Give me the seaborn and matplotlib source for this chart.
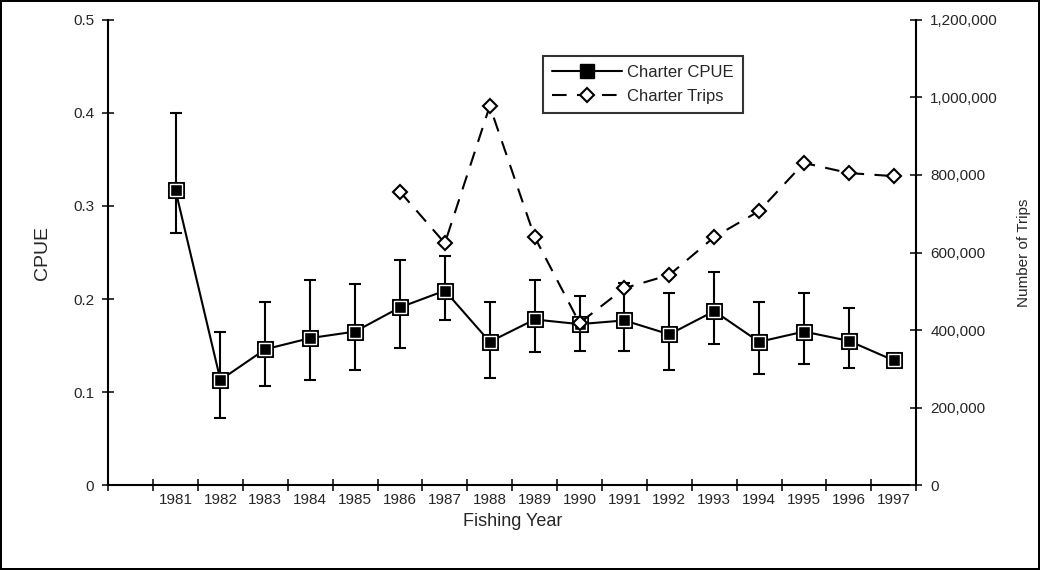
import numpy as np
import pandas as pd
import seaborn as sns
import matplotlib.pyplot as plt
from matplotlib.lines import Line2D
from matplotlib.ticker import FuncFormatter, MultipleLocator

years = list(range(1981, 1998))
cpue = [0.317, 0.113, 0.146, 0.158, 0.165, 0.191, 0.209, 0.154, 0.178,
        0.173, 0.177, 0.162, 0.187, 0.154, 0.165, 0.155, 0.134]
cpue_upper = [0.400, 0.165, 0.197, 0.220, 0.216, 0.242, 0.246, 0.197, 0.220,
              0.203, 0.217, 0.207, 0.229, 0.197, 0.207, 0.190, np.nan]
cpue_lower = [0.271, 0.072, 0.106, 0.113, 0.124, 0.147, 0.177, 0.115, 0.143,
              0.144, 0.144, 0.124, 0.152, 0.119, 0.130, 0.126, np.nan]

trip_years = list(range(1986, 1998))
trips = [757000, 624000, 978000, 640000, 418000, 508000,
         542000, 640000, 707000, 831000, 805000, 797000]

sns.set_style('white')
plt.rcParams['font.family'] = ['Liberation Sans', 'DejaVu Sans']

df = pd.DataFrame({'year': years, 'cpue': cpue})
df_trips = pd.DataFrame({'year': trip_years, 'trips': trips})

fig = plt.figure(figsize=(10.4, 5.7), dpi=100)
fig.patch.set_edgecolor('black')
fig.patch.set_linewidth(1.5)
ax = fig.add_axes([0.104, 0.149, 0.777, 0.816])
ax2 = ax.twinx()

# error bars first so the markers sit on top
yerr = [np.array(cpue) - np.array(cpue_lower), np.array(cpue_upper) - np.array(cpue)]
ax.errorbar(years, cpue, yerr=yerr, fmt='none', ecolor='black', elinewidth=1.5,
            capsize=4, capthick=1.5, zorder=2)
sns.lineplot(data=df, x='year', y='cpue', ax=ax, color='black', lw=1.5,
             marker='s', markersize=11, markerfacecolor='black',
             markeredgecolor='black', zorder=3)
# inner white outline of the Excel-style square marker
ax.plot(years, cpue, ls='none', marker='s', markersize=8, markerfacecolor='black',
        markeredgecolor='white', markeredgewidth=1, zorder=4)

sns.lineplot(data=df_trips, x='year', y='trips', ax=ax2, color='black', lw=1.5,
             marker='D', markersize=7, markerfacecolor='white',
             markeredgecolor='black', markeredgewidth=1.5)
ax2.lines[0].set_dashes([7, 5])

ax.set_xlim(1979.5, 1997.5)
ax.set_ylim(0, 0.5)
ax2.set_ylim(0, 1200000)

ax.set_xticks(years)
ax.set_xticklabels([str(y) for y in years])
ax.xaxis.set_minor_locator(MultipleLocator(1, offset=0.5))
ax.tick_params(axis='x', which='major', length=0, pad=6, labelsize=11)
ax.tick_params(axis='x', which='minor', direction='inout', length=8, width=1.3,
               bottom=True)
ax.yaxis.set_major_locator(MultipleLocator(0.1))
ax.yaxis.set_major_formatter(FuncFormatter(lambda v, p: '0' if v == 0 else f'{v:.1f}'))
ax.tick_params(axis='y', direction='inout', length=8, width=1.3, labelsize=11, pad=6,
               left=True)
ax2.yaxis.set_major_locator(MultipleLocator(200000))
ax2.yaxis.set_major_formatter(FuncFormatter(lambda v, p: f'{int(v):,}'))
ax2.tick_params(axis='y', direction='inout', length=8, width=1.3, labelsize=11, pad=6,
                right=True)

for a in (ax, ax2):
    a.spines['top'].set_visible(False)
    for s in ('left', 'right', 'bottom'):
        a.spines[s].set_linewidth(1.5)
        a.spines[s].set_color('black')
ax.spines['right'].set_visible(False)
ax2.spines['left'].set_visible(False)
ax2.spines['bottom'].set_visible(False)

ax.set_xlabel('Fishing Year', fontsize=13, labelpad=4)
ax.set_ylabel('CPUE', fontsize=14, labelpad=16)
ax2.set_ylabel('Number of Trips', fontsize=11, labelpad=14)

handles = [
    Line2D([], [], color='black', lw=1.5, marker='s', markersize=10,
           markerfacecolor='black', markeredgecolor='black'),
    Line2D([], [], color='black', lw=1.5, dashes=[7, 5], marker='D', markersize=7,
           markerfacecolor='white', markeredgecolor='black', markeredgewidth=1.5),
]
leg = ax2.legend(handles, ['Charter CPUE', 'Charter Trips'], loc='upper left',
                 bbox_to_anchor=(0.538, 0.923), borderaxespad=0, frameon=True,
                 fancybox=False, edgecolor='black', fontsize=12, handlelength=4.2,
                 borderpad=0.55, labelspacing=0.55, handletextpad=0.3)
leg.get_frame().set_linewidth(1.5)

fig.savefig('out.png', dpi=100)
